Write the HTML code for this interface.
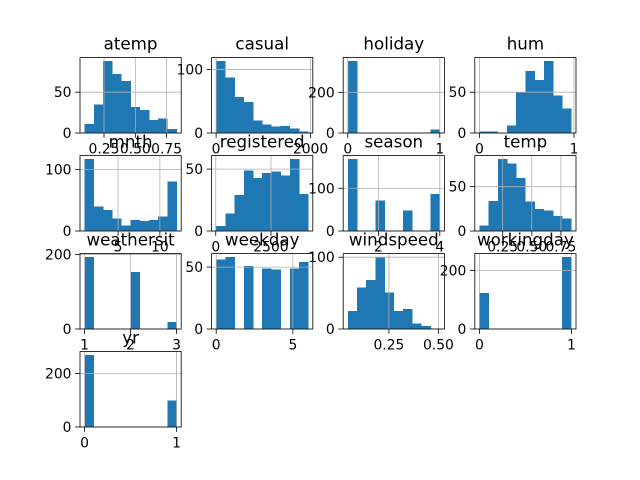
<!DOCTYPE html>
<html><head><meta charset="utf-8"><style>body{margin:0;background:#fff}svg{display:block}</style></head>
<body>
<svg id="fig" width="640" height="480" xmlns="http://www.w3.org/2000/svg" font-family="DejaVu Sans, Liberation Sans, sans-serif"></svg>
<script>
const names = ["atemp","casual","holiday","hum","mnth","registered","season","temp","weathersit","weekday","windspeed","workingday","yr"];
const ranges = [[0.095,0.83],[2,1950],[0,1],[0,0.9725],[1,12],[20,4185],[1,4],[0.05,0.84],[1,3],[0,6],[0.042,0.507],[0,1],[0,1]];
const atempCounts = [11,35,88,72,64,32,28,16,18,5];
const casualCounts = [113,87,57,49,20,13,10,11,7,2];
const holidayCounts = [353,0,0,0,0,0,0,0,0,16];
const humCounts = [2,2,0,9,50,76,65,88,46,30];
const mnthCounts = [117,40,34,20,9,18,16,18,24,81];
const registeredCounts = [4,14,29,49,43,47,48,45,58,30];
const seasonCounts = [168,0,0,71,0,0,48,0,0,87];
const tempCounts = [6,34,81,76,60,33,25,23,17,14];
const weathersitCounts = [193,0,0,0,0,153,0,0,0,19];
const weekdayCounts = [56,58,0,51,0,49,48,0,49,54];
const windspeedCounts = [25,58,68,100,51,25,28,8,4,1];
const workingdayCounts = [123,0,0,0,0,0,0,0,0,245];
const yrCounts = [268,0,0,0,0,0,0,0,0,99];
const counts = [atempCounts,casualCounts,holidayCounts,humCounts,mnthCounts,registeredCounts,seasonCounts,tempCounts,weathersitCounts,weekdayCounts,windspeedCounts,workingdayCounts,yrCounts];
const xTicks = [[0.25,0.5,0.75],[0,2000],[0,1],[0,1],[5,10],[0,2500],[2,4],[0.25,0.5,0.75],[1,2,3],[0,5],[0.25,0.5],[0,1],[0,1]];
const xTickLabels = [["0.25","0.50","0.75"],["0","2000"],["0","1"],["0","1"],["5","10"],["0","2500"],["2","4"],["0.25","0.50","0.75"],["1","2","3"],["0","5"],["0.25","0.50"],["0","1"],["0","1"]];
const yTicks = [[0,50],[0,100],[0,200],[0,50],[0,100],[0,50],[0,100],[0,50],[0,200],[0,50],[0,100],[0,200],[0,200]];

const NS="http://www.w3.org/2000/svg", svg=document.getElementById('fig');
function mk(tag,attrs,parent){const e=document.createElementNS(NS,tag);for(const k in attrs)e.setAttribute(k,attrs[k]);(parent||svg).appendChild(e);return e;}
const colL=[80,211.6,343.2,474.8], rowT=[57.6,155.6,253.6,351.6], W=101.2, H=75.4;
names.forEach((nm,i)=>{
  const ax0=colL[i%4], ay0=rowT[Math.floor(i/4)];
  const g=mk('g',{});
  
  
  const [mn,mx]=ranges[i], span=mx-mn, x0=mn-0.05*span, x1=mx+0.05*span;
  const c=counts[i], ymax=Math.max(...c)*1.05;
  const sx=v=>ax0+(v-x0)/(x1-x0)*W, sy=v=>ay0+H-v/ymax*H;
  // bars
  const bw=span/c.length;
  c.forEach((v,k)=>{if(v<=0)return;const a=mn+k*bw;
    const r=mk('rect',{x:sx(a),y:sy(v),width:sx(a+bw)-sx(a)+0.3,height:sy(0)-sy(v),fill:'#1f77b4','shape-rendering':'crispEdges'},g);
    });
  // grid (on top of bars)
  xTicks[i].forEach(t=>{const l=mk('line',{x1:sx(t),x2:sx(t),y1:ay0,y2:ay0+H,stroke:'#b0b0b0','stroke-width':0.8},g);
    });
  yTicks[i].forEach(t=>{const l=mk('line',{x1:ax0,x2:ax0+W,y1:sy(t),y2:sy(t),stroke:'#b0b0b0','stroke-width':0.8},g);
    });
  // frame
  const f=mk('rect',{x:ax0,y:ay0,width:W,height:H,fill:'none',stroke:'#000','stroke-width':0.8},g);
  
  // ticks
  xTicks[i].forEach((t,k)=>{mk('line',{x1:sx(t),x2:sx(t),y1:ay0+H,y2:ay0+H+4.9,stroke:'#000','stroke-width':0.8},g);
    const tx=mk('text',{x:sx(t),y:ay0+H+20.5,'text-anchor':'middle','font-size':13.9,fill:'#000'},g);tx.textContent=xTickLabels[i][k];
    });
  yTicks[i].forEach(t=>{mk('line',{x1:ax0-4.9,x2:ax0,y1:sy(t),y2:sy(t),stroke:'#000','stroke-width':0.8},g);
    const tx=mk('text',{x:ax0-8.5,y:sy(t)+5,'text-anchor':'end','font-size':13.9,fill:'#000'},g);tx.textContent=String(t);
    });
  const ti=mk('text',{x:ax0+W/2,y:ay0-8,'text-anchor':'middle','font-size':16.7,fill:'#000'},g);ti.textContent=nm;
  
});
</script>
</body></html>
